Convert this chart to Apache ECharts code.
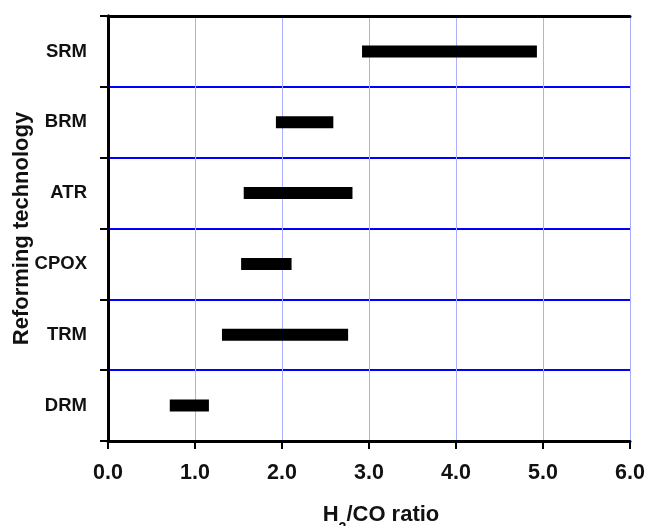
<!DOCTYPE html>
<html>
<head>
<meta charset="utf-8">
<script src="https://cdn.jsdelivr.net/npm/echarts@6/dist/echarts.min.js"></script>
<style>
html,body{margin:0;padding:0;background:#fff;}
#chart{width:649px;height:526px;}
</style>
</head>
<body>
<div id="chart"></div>
<script>
// Categories listed bottom to top
var categories = ['DRM', 'TRM', 'CPOX', 'ATR', 'BRM', 'SRM'];
var rangeStart = [0.71, 1.31, 1.53, 1.56, 1.93, 2.92];
var rangeEnd   = [1.16, 2.76, 2.11, 2.81, 2.59, 4.93];
var xTicks = [0, 1, 2, 3, 4, 5, 6];

var FONT = 'Liberation Sans, Arial, sans-serif';
var chart = echarts.init(document.getElementById('chart'));

var spans = rangeEnd.map(function (e, i) { return +(e - rangeStart[i]).toFixed(3); });

chart.setOption({
  animation: false,
  backgroundColor: '#ffffff',
  grid: { left: 108, right: 19, top: 16, bottom: 85, containLabel: false, outerBoundsMode: 'none' },
  xAxis: [{
    type: 'value',
    min: xTicks[0], max: xTicks[xTicks.length - 1], interval: 1,
    position: 'bottom',
    axisLine: { show: true, lineStyle: { color: '#000', width: 3 } },
    axisTick: { show: true, inside: false, length: 8, lineStyle: { color: '#000', width: 2 } },
    axisLabel: {
      margin: 21, color: '#111', fontFamily: FONT, fontWeight: 'bold', fontSize: 21.5,
      formatter: function (v) { return v.toFixed(1); }
    },
    splitLine: { show: true, lineStyle: { color: '#aab0ff', width: 1 } },
    name: 'H{sub|2}/CO ratio',
    nameLocation: 'middle', nameGap: 62, nameMoveOverlap: false,
    nameTextStyle: {
      color: '#111', fontFamily: FONT, fontWeight: 'bold', fontSize: 22, lineHeight: 24,
      padding: [0, 0, 0, 24],
      rich: { sub: { fontFamily: FONT, fontWeight: 'bold', fontSize: 14, lineHeight: 24, verticalAlign: 'bottom', padding: [0, 0, -8, 0] } }
    }
  }, {
    type: 'value',
    min: xTicks[0], max: xTicks[xTicks.length - 1], interval: 1,
    position: 'top',
    axisLine: { show: true, lineStyle: { color: '#000', width: 3 } },
    axisTick: { show: false }, axisLabel: { show: false }, splitLine: { show: false }
  }],
  yAxis: [{
    type: 'category',
    data: categories,
    position: 'left',
    boundaryGap: true,
    axisLine: { show: true, lineStyle: { color: '#000', width: 3 } },
    axisTick: { show: true, inside: false, length: 8, lineStyle: { color: '#000', width: 2 } },
    axisLabel: { margin: 21, color: '#111', fontFamily: FONT, fontWeight: 'bold', fontSize: 18.5 },
    splitLine: { show: true, lineStyle: { color: '#0000ff', width: 2 } },
    name: 'Reforming technology',
    nameLocation: 'middle', nameGap: 75, nameMoveOverlap: false,
    nameTextStyle: { color: '#111', fontFamily: FONT, fontWeight: 'bold', fontSize: 22 }
  }, {
    type: 'category',
    data: categories,
    position: 'right',
    axisLine: { show: true, lineStyle: { color: '#000', width: 3 } },
    axisTick: { show: false }, axisLabel: { show: false }, splitLine: { show: false }
  }],
  series: [{
    type: 'bar', stack: 'r', data: rangeStart, barWidth: 12,
    itemStyle: { color: 'rgba(0,0,0,0)' }, silent: true
  }, {
    type: 'bar', stack: 'r', data: spans, barWidth: 12,
    itemStyle: { color: '#000' }
  }]
});
</script>
</body>
</html>
